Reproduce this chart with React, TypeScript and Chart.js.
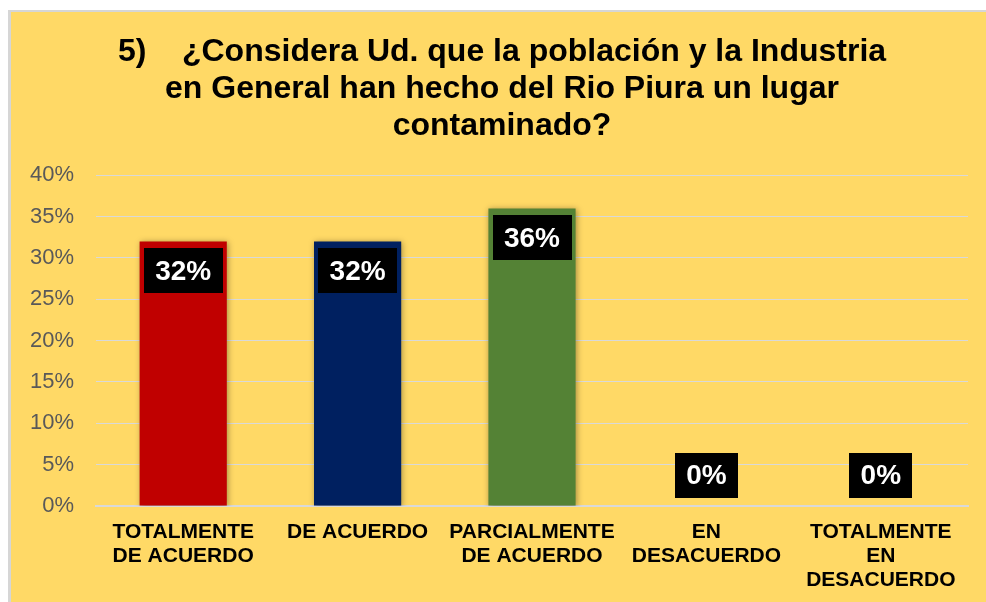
import React, { useEffect, useRef } from 'react';
import { Chart, registerables } from 'chart.js';

Chart.register(...registerables);

const TITLE_LINES = [
  '5)    ¿Considera Ud. que la población y la Industria',
  'en General han hecho del Rio Piura un lugar',
  'contaminado?',
];
const CATEGORIES = [
  ['TOTALMENTE', 'DE ACUERDO'],
  ['DE ACUERDO'],
  ['PARCIALMENTE', 'DE ACUERDO'],
  ['EN', 'DESACUERDO'],
  ['TOTALMENTE', 'EN', 'DESACUERDO'],
];
const VALUES = [32, 32, 36, 0, 0];
const BAR_COLORS = ['#C00000', '#002060', '#548235', '#A5A5A5', '#FFC000'];
const Y_MIN = 0;
const Y_MAX = 40;
const Y_STEP = 5;

const FONT = '"Liberation Sans", Arial, sans-serif';

const shadowPlugin = {
  id: 'barShadow',
  beforeDatasetsDraw(chart: any) {
    const ctx = chart.ctx;
    ctx.save();
    ctx.shadowColor = 'rgba(0,0,0,0.35)';
    ctx.shadowBlur = 6;
    ctx.shadowOffsetX = 1;
    ctx.shadowOffsetY = 1;
  },
  afterDatasetsDraw(chart: any) {
    chart.ctx.restore();
  },
};

const labelPlugin = {
  id: 'boxLabels',
  afterDatasetsDraw(chart: any) {
    const ctx = chart.ctx;
    const meta = chart.getDatasetMeta(0);
    ctx.save();
    ctx.font = `bold 28px ${FONT}`;
    ctx.textAlign = 'center';
    ctx.textBaseline = 'middle';
    meta.data.forEach((bar: any, i: number) => {
      const v = VALUES[i];
      const text = `${v}%`;
      const w = Math.round(ctx.measureText(text).width + 23);
      const h = 45;
      const { x, y, base } = bar.getProps(['x', 'y', 'base'], true);
      const top = v > 0 ? y + 7 : base - 8 - h;
      ctx.fillStyle = '#000000';
      ctx.fillRect(Math.round(x - w / 2), Math.round(top), w, h);
      ctx.fillStyle = '#FFFFFF';
      ctx.fillText(text, x, top + h / 2 + 1);
    });
    ctx.restore();
  },
};

export default function App() {
  const canvasRef = useRef<HTMLCanvasElement | null>(null);

  useEffect(() => {
    if (!canvasRef.current) return;
    Chart.defaults.font.family = FONT;
    const chart = new Chart(canvasRef.current, {
      type: 'bar',
      data: {
        labels: CATEGORIES as any,
        datasets: [
          {
            data: VALUES,
            backgroundColor: BAR_COLORS,
            borderWidth: 0,
            barPercentage: 0.5,
            categoryPercentage: 1,
            yAxisID: 'y',
          },
        ],
      },
      options: {
        responsive: false,
        animation: false,
        devicePixelRatio: 1,
        layout: { padding: { left: 10, right: 3, top: 0, bottom: 0 } },
        plugins: {
          legend: { display: false },
          tooltip: { enabled: false },
          title: {
            display: true,
            text: TITLE_LINES,
            color: '#000000',
            font: { size: 32, weight: 'bold', lineHeight: 1.17, family: FONT },
            padding: { top: 21, bottom: 30 },
          },
        },
        scales: {
          x: {
            grid: { display: false, drawTicks: false },
            border: { display: true, color: '#D9D9D9', width: 2 },
            ticks: {
              color: '#000000',
              font: { size: 21, weight: 'bold', lineHeight: 1.15, family: FONT },
              padding: 14,
              autoSkip: false,
              maxRotation: 0,
              minRotation: 0,
            },
            afterFit: (s: any) => {
              s.height = 96;
            },
          },
          y: {
            min: Y_MIN,
            max: Y_MAX,
            ticks: {
              stepSize: Y_STEP,
              color: '#595959',
              font: { size: 22, family: FONT },
              padding: 22,
              callback: (v: any) => `${v}%`,
            },
            grid: { color: '#D9D9D9', lineWidth: 1, drawTicks: false },
            border: { display: false },
            afterFit: (s: any) => {
              s.width = 75;
            },
          },
          yRight: {
            position: 'right',
            display: true,
            grid: { display: false, drawTicks: false },
            border: { display: false },
            ticks: { display: false },
            afterFit: (s: any) => {
              s.width = 15;
            },
          },
        },
      },
      plugins: [shadowPlugin, labelPlugin],
    });
    return () => chart.destroy();
  }, []);

  return (
    <div
      style={{
        position: 'absolute',
        left: 8,
        top: 10,
        width: 975,
        height: 590,
        borderLeft: '3px solid #D6D6D6',
        borderTop: '2px solid #D6D6D6',
        background: '#FFD966',
        overflow: 'hidden',
      }}
    >
      <canvas ref={canvasRef} width={975} height={590} style={{ display: 'block', width: 975, height: 590 }} />
    </div>
  );
}
